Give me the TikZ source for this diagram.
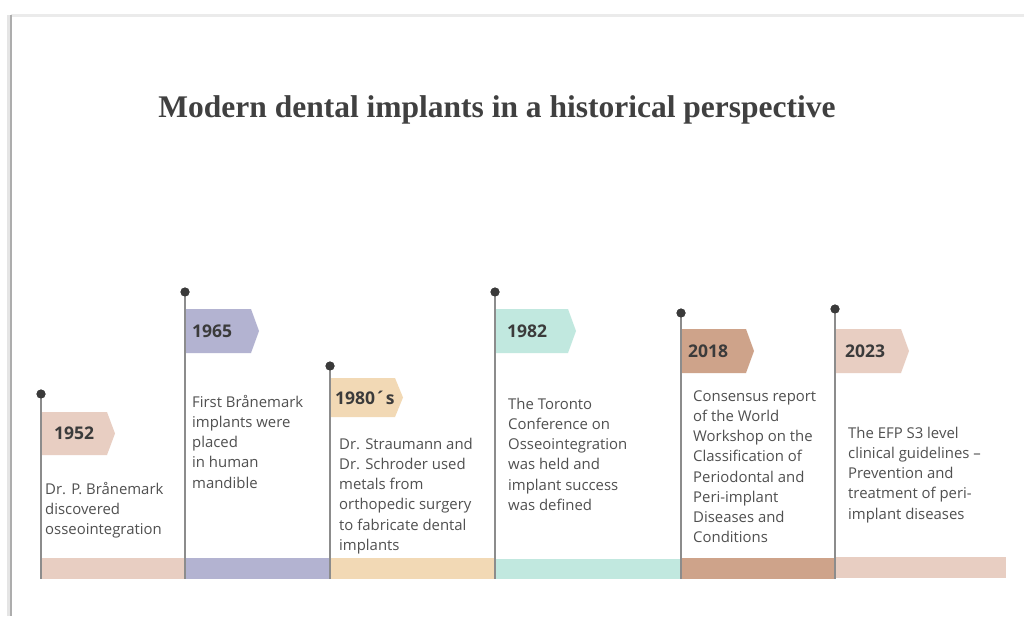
\documentclass[tikz,border=0pt]{standalone}
\usepackage{fontspec}
\setmainfont{Liberation Serif}
\newfontfamily\descfont{Open Sans}
\definecolor{cpink}{HTML}{E8CEC2}
\definecolor{clav}{HTML}{B3B3D1}
\definecolor{cpeach}{HTML}{F2D9B5}
\definecolor{cmint}{HTML}{C1E8DF}
\definecolor{ctan}{HTML}{CEA38A}
\definecolor{polegray}{HTML}{8C8C8C}
\definecolor{dotgray}{HTML}{3A3A3A}
\definecolor{yeargray}{HTML}{3B3B3B}
\definecolor{descgray}{HTML}{505050}
\definecolor{titlegray}{HTML}{404040}
\newcommand\tlflag[5]{\fill[#5] (#1,#2) -- ({#3-8},#2) -- (#3,{(#2+#4)/2}) -- ({#3-8},#4) -- (#1,#4) -- cycle;}
\begin{document}
\begin{tikzpicture}[x=1pt,y=-1pt,
  pole/.style={draw=polegray, line width=1.6pt},
  dotnode/.style={circle, fill=dotgray, inner sep=0pt, minimum size=9pt},
  year/.style={font=\descfont\bfseries\fontsize{17.5}{20}\selectfont, text=yeargray, anchor=west, inner sep=0pt},
  desc/.style={font=\descfont\fontsize{14.9}{20.2}\selectfont, text=descgray, align=left, anchor=north west, inner sep=0pt},
  title/.style={font=\bfseries\fontsize{31.5}{34}\selectfont, text=titlegray, inner sep=0pt}]
\useasboundingbox (0,0) rectangle (1024,616);
\fill[white] (0,0) rectangle (1024,616);
% frame
\draw[line width=3pt, color=black!8] (11,15) -- (1024,15);
\draw[line width=4pt, color=black!10] (9,15) -- (9,616);
\draw[line width=1.8pt, color=black!32] (11,15) -- (11,616);
% title
\node[title] (title) at (497,109.5) {Modern dental implants in a historical perspective};
% bar segments
\fill[cpink] (41,558) rectangle (185,579);
\fill[clav] (185,558) rectangle (330,579);
\fill[cpeach] (330,558) rectangle (495,579);
\fill[cmint] (495,559) rectangle (681,579);
\fill[ctan] (681,558) rectangle (835,579);
\fill[cpink] (835,557) rectangle (1006,578);
% flags
\tlflag{41}{412}{115}{455}{cpink}
\tlflag{185}{309}{259}{353}{clav}
\tlflag{330}{378}{403}{417}{cpeach}
\tlflag{495}{309}{576}{353}{cmint}
\tlflag{681}{329}{754}{373}{ctan}
\tlflag{835}{329}{909}{373}{cpink}
% poles
\coordinate (b1) at (41,579);
\coordinate (b2) at (185,579);
\coordinate (b3) at (330,579);
\coordinate (b4) at (495,579);
\coordinate (b5) at (681,579);
\coordinate (b6) at (835,579);
\node[dotnode] (d1) at (41,394) {};
\node[dotnode] (d2) at (185,292) {};
\node[dotnode] (d3) at (330,366) {};
\node[dotnode] (d4) at (495,292) {};
\node[dotnode] (d5) at (681,313) {};
\node[dotnode] (d6) at (835,309) {};
\foreach \i in {1,...,6} {\draw[pole] (d\i.center) -- (b\i);}
\foreach \i in {1,...,6} {\node[dotnode] at (d\i) {};}
% years
\node[year] (y1) at (54,433.5) {1952};
\node[year] (y2) at (192,331) {1965};
\node[year] (y3) at (335,397.5) {1980´s};
\node[year] (y4) at (507,331) {1982};
\node[year] (y5) at (688,351) {2018};
\node[year] (y6) at (845,351) {2023};
% descriptions
\node[desc] (t1) at (45,480) {\strut Dr. P. Brånemark\\discovered\\osseointegration};
\node[desc] (t2) at (192,393) {\strut First Brånemark\\implants were\\placed\\in human\\mandible};
\node[desc] (t3) at (339,435) {\strut Dr. Straumann and\\Dr. Schroder used\\metals from\\orthopedic surgery\\to fabricate dental\\implants};
\node[desc] (t4) at (508,395) {\strut The Toronto\\Conference on\\Osseointegration\\was held and\\implant success\\was defined};
\node[desc] (t5) at (693,387) {\strut Consensus report\\of the World\\Workshop on the\\Classification of\\Periodontal and\\Peri-implant\\Diseases and\\Conditions};
\node[desc] (t6) at (848,424) {\strut The EFP S3 level\\clinical guidelines –\\Prevention and\\treatment of peri-\\implant diseases};
\end{tikzpicture}
\end{document}
